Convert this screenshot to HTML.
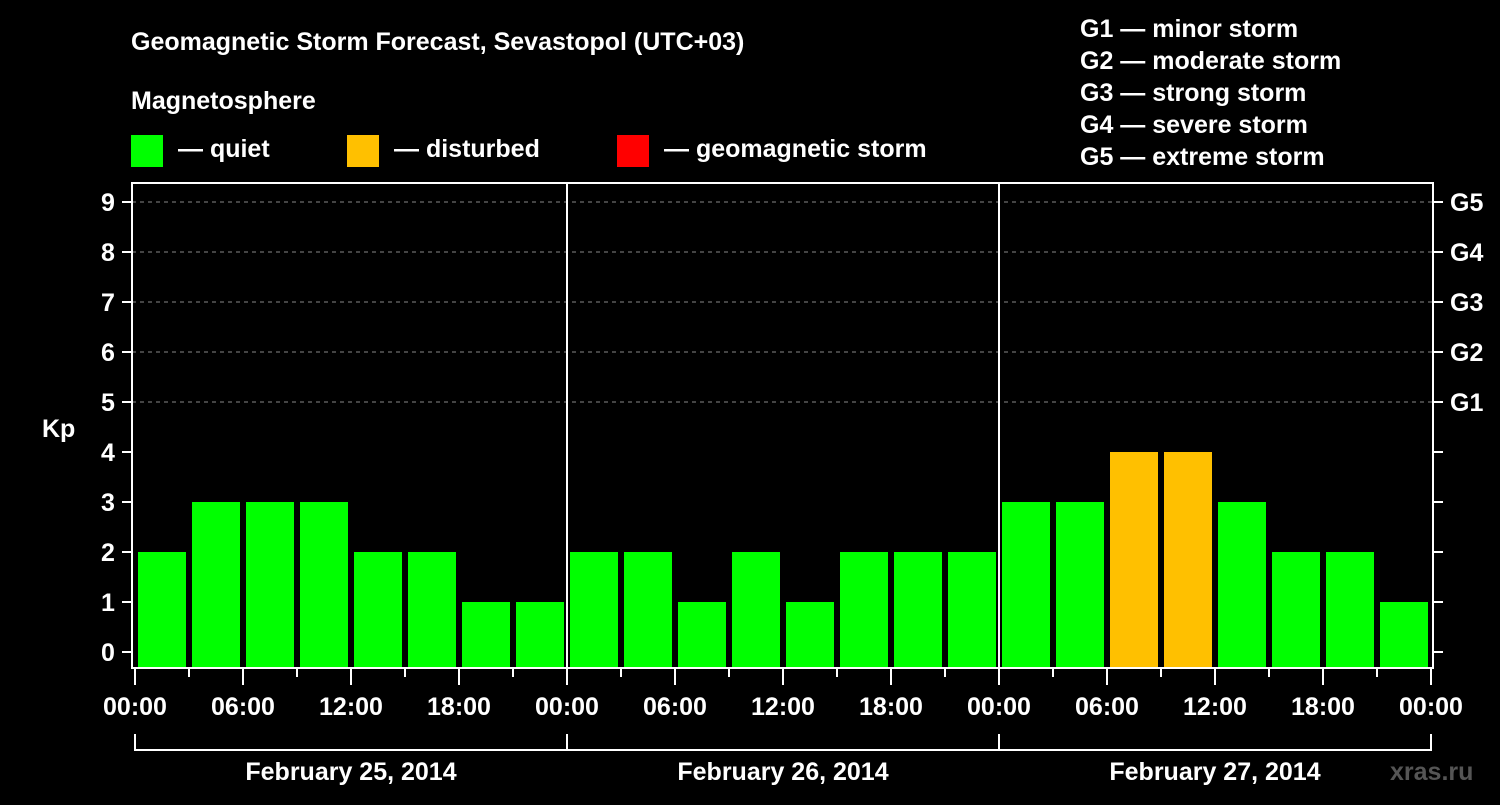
<!DOCTYPE html>
<html><head><meta charset="utf-8"><style>
body{margin:0;background:#000;width:1500px;height:800px;overflow:hidden}
svg{font-family:"Liberation Sans",sans-serif;font-weight:bold;fill:#fff}
</style></head><body>
<svg id="c" width="1500" height="800">
<text x="131" y="50" font-size="25">Geomagnetic Storm Forecast, Sevastopol (UTC+03)</text>
<text x="131" y="109" font-size="25">Magnetosphere</text>
<g><rect x="131" y="135" width="32" height="32" fill="#00ff00"/><text x="178" y="157" font-size="25">— quiet</text></g>
<g><rect x="347" y="135" width="32" height="32" fill="#ffc000"/><text x="394" y="157" font-size="25">— disturbed</text></g>
<g><rect x="617" y="135" width="32" height="32" fill="#ff0000"/><text x="664" y="157" font-size="25">— geomagnetic storm</text></g>
<g font-size="25">
<text x="1080" y="37">G1 — minor storm</text><text x="1080" y="69">G2 — moderate storm</text><text x="1080" y="101">G3 — strong storm</text><text x="1080" y="133">G4 — severe storm</text><text x="1080" y="165">G5 — extreme storm</text></g>
<text x="42" y="437" font-size="25">Kp</text>
<text x="1390" y="780" font-size="25" fill="#555" style="fill:#555">xras.ru</text>
<g id="plot"></g>
</svg>
<script>
const kpValues=[2,3,3,3,2,2,1,1, 2,2,1,2,1,2,2,2, 3,3,4,4,3,2,2,1];
const dayLabels=["February 25, 2014","February 26, 2014","February 27, 2014"];
const timeLabels=["00:00","06:00","12:00","18:00"];
const gLabels=["G1","G2","G3","G4","G5"];
const yTicks=[0,1,2,3,4,5,6,7,8,9];
const NS="http://www.w3.org/2000/svg";
const g=document.getElementById('plot');
const X0=135,DAY=432,Y0=652,U=50,L=132,R=1433,T=183,B=668;
const xs=h=>X0+h*DAY/24, ys=v=>Y0-v*U;
function mk(t,a,txt){const e=document.createElementNS(NS,t);for(const k in a)e.setAttribute(k,a[k]);if(txt!=null)e.textContent=txt;g.appendChild(e);return e;}
// grid
for(let v=5;v<=9;v++){const e=mk('line',{x1:L,x2:R,y1:ys(v),y2:ys(v),stroke:'#888','stroke-dasharray':'4,4','stroke-width':1});

}
// bars
kpValues.forEach((v,i)=>{const x=xs(i*3)+3,y=ys(v);
const e=mk('rect',{x:x,y:y,width:48,height:B-y,fill:v>=5?'#ff0000':v>=4?'#ffc000':'#00ff00'});

});
// frame & day separators
const f=mk('rect',{x:L,y:T,width:R-L,height:B-T,fill:'none',stroke:'#fff','stroke-width':2});


for(let d=1;d<3;d++){const e=mk('line',{x1:xs(d*24),x2:xs(d*24),y1:T,y2:B,stroke:'#fff','stroke-width':2});

}
// y ticks
yTicks.forEach(v=>{const y=ys(v);
mk('line',{x1:122,x2:L,y1:y,y2:y,stroke:'#fff','stroke-width':2});
mk('line',{x1:R,x2:1443,y1:y,y2:y,stroke:'#fff','stroke-width':2});
const t=mk('text',{x:108,y:y+9,'font-size':25,'text-anchor':'middle'},v);


if(v>=5){const t2=mk('text',{x:1450,y:y+9,'font-size':25},gLabels[v-5]);

}});
// x ticks
for(let h=0;h<=72;h+=3){const x=xs(h),maj=h%6==0;
mk('line',{x1:x,x2:x,y1:B,y2:maj?685:677,stroke:'#fff','stroke-width':2});
if(maj){const t=mk('text',{x:x,y:715,'font-size':25,'text-anchor':'middle'},timeLabels[(h%24)/6]);

}}
// day brackets
dayLabels.forEach((d,i)=>{const a=xs(i*24),b=xs(i*24+24);
mk('line',{x1:a,x2:b,y1:750,y2:750,stroke:'#fff','stroke-width':2});
mk('line',{x1:a,x2:a,y1:734,y2:751,stroke:'#fff','stroke-width':2});
mk('line',{x1:b,x2:b,y1:734,y2:751,stroke:'#fff','stroke-width':2});
const t=mk('text',{x:(a+b)/2,y:780,'font-size':25,'text-anchor':'middle'},d);

});
</script>
</body></html>
